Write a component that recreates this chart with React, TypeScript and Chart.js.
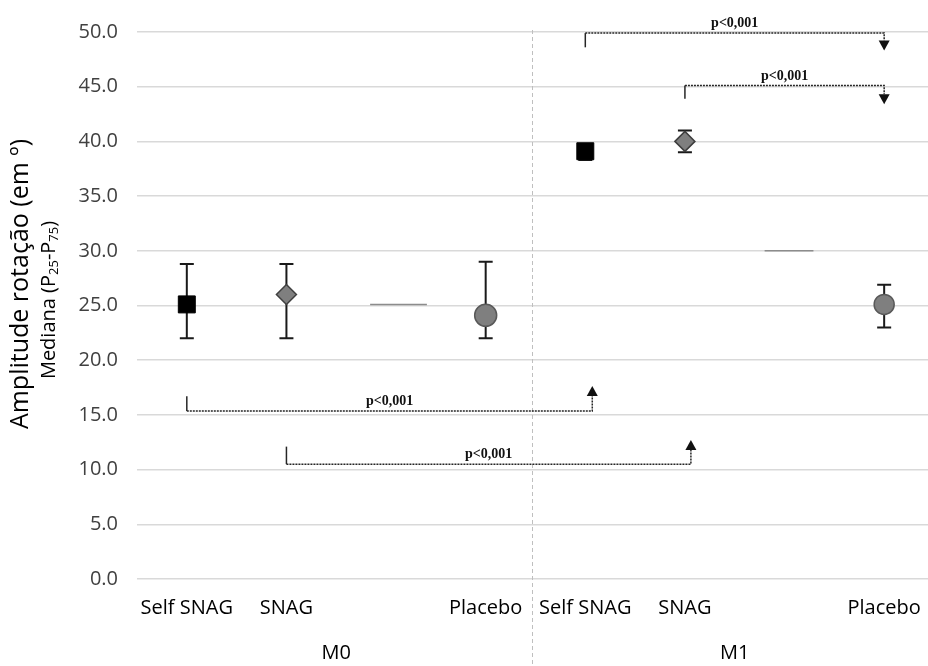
import React, { useEffect, useRef } from 'react';
import { Chart, registerables } from 'chart.js';

Chart.register(...registerables);

// ---- data ----
const xTickLabels = ['Self SNAG', 'SNAG', '', 'Placebo', 'Self SNAG', 'SNAG', '', 'Placebo'];
const groupLabels = ['M0', 'M1'];
const groupCenters = [1.5, 5.5];
const separatorX = 3.46;

const selfSnagX = [0, 4];
const selfSnagMedian = [25.1, 39.1];
const selfSnagP25 = [22.0, 38.3];
const selfSnagP75 = [28.8, 39.6];

const snagX = [1, 5];
const snagMedian = [26.0, 40.0];
const snagP25 = [22.0, 39.0];
const snagP75 = [28.8, 41.0];

const placeboX = [3, 7];
const placeboMedian = [24.1, 25.1];
const placeboP25 = [22.0, 23.0];
const placeboP75 = [29.0, 26.9];

// stray short line segments visible in the original
const segment1X = [1.84, 2.41];
const segment1Y = [25.1, 25.1];
const segment2X = [5.8, 6.29];
const segment2Y = [30.0, 30.0];

// significance brackets
const bracketFrom = [0, 1, 4, 5];
const bracketTo = [4.07, 5.06, 7, 7];
const bracketLevel = [15.35, 10.5, 49.9, 45.1];
const bracketTick = [16.7, 12.1, 48.6, 43.9];
const bracketTip = [17.65, 12.7, 48.3, 43.4];
const bracketLabel = ['p<0,001', 'p<0,001', 'p<0,001', 'p<0,001'];

const yTitle = 'Amplitude rotação (em º)';
const yTitle2Parts: [string, boolean][] = [
  ['Mediana (P', false],
  ['25', true],
  ['-P', false],
  ['75', true],
  [')', false],
];

const SANS = '"Open Sans", sans-serif';

const errorBarPlugin = {
  id: 'errorBars',
  beforeDatasetsDraw(chart: any) {
    const { ctx, scales } = chart;
    const xs = scales.x, ys = scales.y;
    const groups = [
      [selfSnagX, selfSnagP25, selfSnagP75],
      [snagX, snagP25, snagP75],
      [placeboX, placeboP25, placeboP75],
    ];
    ctx.save();
    ctx.strokeStyle = '#1a1a1a';
    ctx.lineWidth = 2;
    for (const [gx, lo, hi] of groups) {
      for (let i = 0; i < gx.length; i++) {
        const px = xs.getPixelForValue(gx[i]);
        const y1 = ys.getPixelForValue(lo[i]);
        const y2 = ys.getPixelForValue(hi[i]);
        ctx.beginPath();
        ctx.moveTo(px, y1);
        ctx.lineTo(px, y2);
        ctx.moveTo(px - 7, y1);
        ctx.lineTo(px + 7, y1);
        ctx.moveTo(px - 7, y2);
        ctx.lineTo(px + 7, y2);
        ctx.stroke();
      }
    }
    // group separator
    const sx = Math.round(xs.getPixelForValue(separatorX)) + 0.5;
    ctx.strokeStyle = '#bfbfbf';
    ctx.lineWidth = 1;
    ctx.setLineDash([4, 3]);
    ctx.beginPath();
    ctx.moveTo(sx, chart.chartArea.top - 2);
    ctx.lineTo(sx, chart.height);
    ctx.stroke();
    ctx.restore();
  },
};

const bracketPlugin = {
  id: 'brackets',
  afterDatasetsDraw(chart: any) {
    const { ctx, scales } = chart;
    const xs = scales.x, ys = scales.y;
    ctx.save();
    for (let i = 0; i < bracketFrom.length; i++) {
      const x1 = xs.getPixelForValue(bracketFrom[i]);
      const x2 = xs.getPixelForValue(bracketTo[i]);
      const yl = ys.getPixelForValue(bracketLevel[i]);
      const yt = ys.getPixelForValue(bracketTick[i]);
      const ytip = ys.getPixelForValue(bracketTip[i]);
      const dir = ytip < yl ? -1 : 1;
      ctx.strokeStyle = '#262626';
      ctx.fillStyle = '#111';
      ctx.lineWidth = 1.5;
      ctx.setLineDash([]);
      ctx.beginPath();
      ctx.moveTo(x1, yt);
      ctx.lineTo(x1, yl);
      ctx.stroke();
      ctx.setLineDash([2, 1]);
      ctx.beginPath();
      ctx.moveTo(x1, yl);
      ctx.lineTo(x2, yl);
      ctx.lineTo(x2, ytip - dir * 10);
      ctx.stroke();
      ctx.setLineDash([]);
      ctx.beginPath();
      ctx.moveTo(x2 - 5.5, ytip - dir * 10);
      ctx.lineTo(x2 + 5.5, ytip - dir * 10);
      ctx.lineTo(x2, ytip);
      ctx.closePath();
      ctx.fill();
      ctx.font = 'bold 14px "Liberation Serif", serif';
      ctx.textAlign = 'center';
      ctx.textBaseline = 'alphabetic';
      ctx.fillText(bracketLabel[i], (x1 + x2) / 2, yl - 6);
    }
    ctx.restore();
  },
};

const textPlugin = {
  id: 'texts',
  afterDraw(chart: any) {
    const { ctx, scales } = chart;
    const xs = scales.x;
    ctx.save();
    ctx.fillStyle = '#000';
    ctx.textAlign = 'center';
    ctx.textBaseline = 'middle';
    // category labels
    ctx.font = `20px ${SANS}`;
    xTickLabels.forEach((t, i) => {
      if (t) ctx.fillText(t, xs.getPixelForValue(i), 608);
    });
    // group labels
    groupLabels.forEach((g, i) => {
      ctx.fillText(g, xs.getPixelForValue(groupCenters[i]), 653);
    });
    // y titles
    ctx.translate(21, 284);
    ctx.rotate(-Math.PI / 2);
    ctx.font = `25px ${SANS}`;
    ctx.fillText(yTitle, 0, 0);
    ctx.restore();

    ctx.save();
    ctx.translate(49, 300);
    ctx.rotate(-Math.PI / 2);
    ctx.fillStyle = '#000';
    ctx.textBaseline = 'middle';
    ctx.textAlign = 'left';
    let total = 0;
    for (const [t, sub] of yTitle2Parts) {
      ctx.font = sub ? `13px ${SANS}` : `20px ${SANS}`;
      total += ctx.measureText(t).width;
    }
    let x = -total / 2;
    for (const [t, sub] of yTitle2Parts) {
      ctx.font = sub ? `13px ${SANS}` : `20px ${SANS}`;
      ctx.fillText(t, x, sub ? 5 : 0);
      x += ctx.measureText(t).width;
    }
    ctx.restore();
  },
};

export default function App() {
  const ref = useRef<HTMLCanvasElement>(null);
  useEffect(() => {
    document.body.style.margin = '0';
    document.body.style.overflow = 'hidden';
    const canvas = ref.current;
    if (!canvas) return;
    const chart = new Chart(canvas, {
      type: 'scatter',
      data: {
        datasets: [
          {
            label: 'Self SNAG',
            data: selfSnagX.map((x, i) => ({ x, y: selfSnagMedian[i] })),
            pointStyle: 'rect',
            pointRadius: 12,
            backgroundColor: '#000',
            borderColor: '#000',
            borderWidth: 1,
          },
          {
            label: 'SNAG',
            data: snagX.map((x, i) => ({ x, y: snagMedian[i] })),
            pointStyle: 'rectRot',
            pointRadius: 10,
            backgroundColor: '#7f7f7f',
            borderColor: '#3f3f3f',
            borderWidth: 1.5,
          },
          {
            label: 'Placebo',
            data: placeboX.map((x, i) => ({ x, y: placeboMedian[i] })),
            pointStyle: 'circle',
            pointRadius: [11, 10],
            backgroundColor: '#7f7f7f',
            borderColor: '#595959',
            borderWidth: 1.5,
          },
          {
            label: 'seg1',
            data: segment1X.map((x, i) => ({ x, y: segment1Y[i] })),
            showLine: true,
            pointRadius: 0,
            borderColor: '#8c8c8c',
            borderWidth: 1.5,
          },
          {
            label: 'seg2',
            data: segment2X.map((x, i) => ({ x, y: segment2Y[i] })),
            showLine: true,
            pointRadius: 0,
            borderColor: '#8c8c8c',
            borderWidth: 1.5,
          },
        ],
      },
      options: {
        animation: false,
        responsive: false,
        events: [],
        layout: { autoPadding: false, padding: { top: 32, bottom: 87, left: 0, right: 0 } },
        plugins: { legend: { display: false }, tooltip: { enabled: false } },
        scales: {
          x: {
            type: 'linear',
            min: -0.5,
            max: 7.44,
            grid: { display: false, drawTicks: false },
            border: { display: false },
            ticks: { display: false },
          },
          y: {
            min: 0,
            max: 50,
            afterFit: (s: any) => {
              s.width = 137;
            },
            grid: { color: '#d9d9d9', drawTicks: false, lineWidth: 1.5 },
            border: { display: false },
            ticks: {
              stepSize: 5,
              padding: 19,
              color: '#404040',
              font: { family: SANS, size: 20 },
              callback: (v: any) => Number(v).toFixed(1),
            },
          },
        },
      },
      plugins: [errorBarPlugin, bracketPlugin, textPlugin],
    } as any);
    return () => chart.destroy();
  }, []);
  return (
    <div style={{ width: 928, height: 666, overflow: 'hidden' }}>
      <canvas ref={ref} width={928} height={666} style={{ display: 'block' }} />
    </div>
  );
}
